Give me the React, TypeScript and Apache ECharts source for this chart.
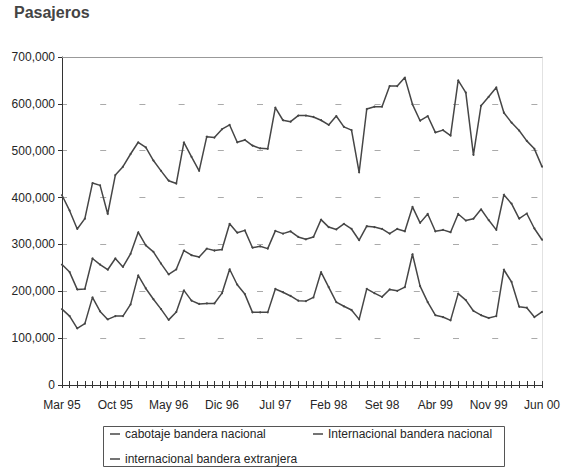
import React, { useEffect, useRef } from "react";
import * as echarts from "echarts";

const months = [
  "Mar 95", "Abr 95", "May 95", "Jun 95", "Jul 95", "Ago 95", "Set 95", "Oct 95", "Nov 95", "Dic 95",
  "Ene 96", "Feb 96", "Mar 96", "Abr 96", "May 96", "Jun 96", "Jul 96", "Ago 96", "Set 96", "Oct 96", "Nov 96", "Dic 96",
  "Ene 97", "Feb 97", "Mar 97", "Abr 97", "May 97", "Jun 97", "Jul 97", "Ago 97", "Set 97", "Oct 97", "Nov 97", "Dic 97",
  "Ene 98", "Feb 98", "Mar 98", "Abr 98", "May 98", "Jun 98", "Jul 98", "Ago 98", "Set 98", "Oct 98", "Nov 98", "Dic 98",
  "Ene 99", "Feb 99", "Mar 99", "Abr 99", "May 99", "Jun 99", "Jul 99", "Ago 99", "Set 99", "Oct 99", "Nov 99", "Dic 99",
  "Ene 00", "Feb 00", "Mar 00", "Abr 00", "May 00", "Jun 00",
];

const cabotajeNacional = [
  405000, 372000, 333000, 355000, 431000, 426000, 365000, 448000, 466000, 493000,
  518000, 507000, 479000, 457000, 436000, 430000, 518000, 487000, 457000, 530000, 528000, 546000,
  555000, 518000, 523000, 511000, 505000, 504000, 592000, 565000, 562000, 575000, 575000, 572000,
  565000, 555000, 574000, 551000, 544000, 454000, 589000, 594000, 594000, 638000, 638000, 656000,
  599000, 564000, 574000, 539000, 544000, 532000, 650000, 624000, 491000, 596000, 615000, 635000,
  581000, 560000, 543000, 521000, 504000, 466000,
];

const internacionalNacional = [
  257000, 241000, 204000, 205000, 270000, 257000, 246000, 270000, 252000, 280000,
  326000, 298000, 284000, 259000, 236000, 247000, 287000, 277000, 273000, 291000, 287000, 289000,
  344000, 325000, 330000, 293000, 296000, 291000, 329000, 323000, 328000, 316000, 311000, 316000,
  353000, 337000, 332000, 344000, 333000, 309000, 339000, 337000, 333000, 323000, 333000, 328000,
  380000, 346000, 365000, 328000, 331000, 326000, 365000, 351000, 355000, 375000, 352000, 331000,
  406000, 387000, 355000, 366000, 334000, 310000,
];

const internacionalExtranjera = [
  162000, 147000, 121000, 131000, 187000, 157000, 140000, 147000, 147000, 172000,
  234000, 206000, 183000, 162000, 139000, 156000, 202000, 180000, 173000, 174000, 174000, 196000,
  247000, 214000, 194000, 155000, 155000, 155000, 205000, 198000, 190000, 180000, 179000, 187000,
  241000, 209000, 177000, 168000, 160000, 140000, 205000, 196000, 188000, 204000, 201000, 209000,
  279000, 211000, 177000, 149000, 145000, 138000, 195000, 181000, 158000, 149000, 143000, 147000,
  246000, 220000, 167000, 165000, 145000, 156000,
];

const seriesNames = [
  "cabotaje bandera nacional",
  "Internacional bandera nacional",
  "internacional bandera extranjera",
];

const FONT = "'Liberation Sans', Arial, sans-serif";
const LINE = "#464646";
const TEXT = "#262626";

export default function App() {
  const ref = useRef<HTMLDivElement>(null);

  useEffect(() => {
    if (!ref.current) return;
    const chart = echarts.init(ref.current, undefined, { renderer: "svg" });
    const legendText = { fontFamily: FONT, fontSize: 12, color: TEXT };
    const mkLegend = (name: string, left: number, top: number) => ({
      data: [name],
      left,
      top,
      padding: 0,
      orient: "horizontal",
      icon: "rect",
      itemWidth: 10,
      itemHeight: 1.5,
      itemGap: 5,
      selectedMode: false,
      textStyle: legendText,
    });
    const mkSeries = (name: string, data: number[]) => ({
      name,
      type: "line",
      data,
      xAxisIndex: 0,
      yAxisIndex: 0,
      symbol: "circle",
      symbolSize: 2,
      showSymbol: true,
      lineStyle: { color: LINE, width: 1.5 },
      itemStyle: { color: LINE },
      emphasis: { disabled: true },
    });
    const gridRect = { left: 62, right: 32, top: 57, bottom: 83, containLabel: false };
    chart.setOption({
      animation: false,
      backgroundColor: "#ffffff",
      textStyle: { fontFamily: FONT },
      title: {
        text: "Pasajeros",
        left: 14,
        top: 4,
        padding: 0,
        textStyle: { fontFamily: FONT, fontSize: 16, fontWeight: "bold", color: "#444444" },
      },
      grid: [gridRect, { ...gridRect }],
      legend: [
        mkLegend(seriesNames[0], 110, 428),
        mkLegend(seriesNames[1], 313, 428),
        mkLegend(seriesNames[2], 110, 453),
      ],
      graphic: [
        {
          type: "rect",
          shape: { x: 103.5, y: 426.5, width: 401, height: 40 },
          style: { fill: "none", stroke: "#555555", lineWidth: 1 },
          silent: true,
        },
      ],
      xAxis: [
        {
          gridIndex: 0,
          type: "category",
          data: months,
          boundaryGap: false,
          position: "bottom",
          axisLine: { show: true, lineStyle: { color: "#333333", width: 1 } },
          axisTick: { show: true, interval: 0, inside: false, length: 3, lineStyle: { color: "#333333" } },
          axisLabel: { interval: 6, margin: 14, fontFamily: FONT, fontSize: 12, color: TEXT },
          splitLine: { show: false },
        },
        {
          gridIndex: 1,
          type: "category",
          data: months,
          boundaryGap: false,
          position: "bottom",
          axisLine: { show: false },
          axisTick: { show: true, interval: 0, inside: true, length: 4, lineStyle: { color: "#333333" } },
          axisLabel: { show: false },
          splitLine: { show: false },
        },
        {
          gridIndex: 1,
          type: "category",
          data: months,
          boundaryGap: false,
          position: "top",
          axisLine: { show: true, lineStyle: { color: "#999999", width: 1 } },
          axisTick: { show: false },
          axisLabel: { show: false },
          splitLine: { show: false },
        },
      ],
      yAxis: [
        {
          gridIndex: 0,
          type: "value",
          min: 0,
          max: 700000,
          interval: 100000,
          position: "left",
          axisLine: { show: true, lineStyle: { color: "#333333", width: 1 } },
          axisTick: { show: true, inside: false, length: 4, lineStyle: { color: "#333333" } },
          axisLabel: {
            margin: 7,
            fontFamily: FONT,
            fontSize: 12,
            color: TEXT,
            formatter: (v: number) => v.toLocaleString("en-US"),
          },
          splitLine: {
            show: true,
            lineStyle: { color: "#aaaaaa", width: 1, type: [6, 33.2], dashOffset: 1.2 },
          },
        },
        {
          gridIndex: 1,
          type: "value",
          min: 0,
          max: 700000,
          interval: 100000,
          position: "right",
          axisLine: { show: true, lineStyle: { color: "#e2e2e2", width: 1 } },
          axisTick: { show: false },
          axisLabel: { show: false },
          splitLine: { show: false },
        },
      ],
      series: [
        mkSeries(seriesNames[0], cabotajeNacional),
        mkSeries(seriesNames[1], internacionalNacional),
        mkSeries(seriesNames[2], internacionalExtranjera),
      ],
    });
    return () => chart.dispose();
  }, []);

  return (
    <div
      ref={ref}
      style={{ position: "fixed", left: 0, top: 0, width: 574, height: 468 }}
    />
  );
}
